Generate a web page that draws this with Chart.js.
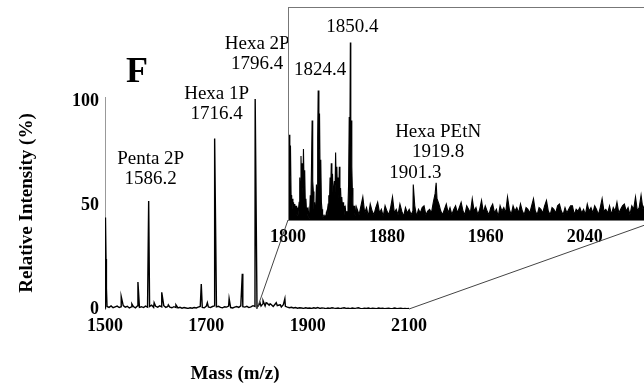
<!DOCTYPE html>
<html>
<head>
<meta charset="utf-8">
<script src="https://cdn.jsdelivr.net/npm/chart.js@4.4.1/dist/chart.umd.min.js"></script>
<style>
html, body { margin: 0; padding: 0; overflow: hidden; background: #fff; }
#wrap { position: relative; width: 644px; height: 384px; overflow: hidden; }
canvas { position: absolute; left: 0; top: 0; }
</style>
</head>
<body>
<div id="wrap">
  <canvas id="mainChart" width="644" height="384"></canvas>
  <canvas id="insetChart" width="680" height="384"></canvas>
</div>
<script>
// tick labels
const mainTicksX = [1500, 1700, 1900, 2100];
const mainTicksY = [0, 50, 100];
const insetTicksX = [1800, 1880, 1960, 2040];

const panelLetter = 'F';
const xTitle = 'Mass (m/z)';
const yTitle = 'Relative Intensity (%)';

// main spectrum: baseline sampled every 4 Da from 1500, plus the peaks
const mainNoiseStart = 1500;
const mainNoiseStep = 4;
const mainNoise = [
  0.5, 1.2, 0.8, 1.5, 0.6, 1.0, 1.4, 0.7, 1.1, 1.6,
  0.9, 1.3, 0.5, 1.0, 1.2, 0.6, 1.5, 0.8, 1.1, 0.7,
  1.4, 0.9, 1.2, 1.8, 0.8, 1.3, 0.9, 1.5, 1.0, 1.6,
  0.8, 1.2, 0.9, 0.6, 1.1, 0.7, 0.5, 0.8, 0.4, 0.7,
  0.5, 0.3, 0.6, 0.4, 0.7, 0.5, 0.9, 1.2, 0.8, 0.6,
  1.4, 1.0, 0.7, 1.2, 1.5, 1.0, 1.3, 0.8, 0.6, 1.1,
  0.9, 1.4, 0.7, 0.5, 0.9, 1.2, 0.8, 1.5, 1.1, 0.9,
  1.3, 0.7, 1.0, 1.6, 1.2, 0.8, 2.0, 1.4, 2.6, 1.5,
  2.8, 1.8, 2.2, 1.2, 2.4, 1.6, 1.9, 1.0, 2.1, 1.3,
  0.9, 0.6, 0.8, 0.5, 0.7, 0.4, 0.6, 0.5, 0.3, 0.6,
  0.4, 0.5, 0.3, 0.6, 0.4, 0.7, 0.3, 0.5, 0.4, 0.2,
  0.5, 0.3, 0.6, 0.4, 0.3, 0.5, 0.2, 0.4, 0.6, 0.3,
  0.4, 0.2, 0.5, 0.3, 0.4, 0.6, 0.3, 0.2, 0.4, 0.3,
  0.5, 0.2, 0.4, 0.3, 0.2, 0.5, 0.3, 0.4, 0.2, 0.3,
  0.4, 0.2, 0.3, 0.5, 0.2, 0.3, 0.4, 0.2, 0.3, 0.2,
  0.3
];
const mainPeakMass = [1500.6, 1501.2, 1502.0, 1502.8, 1532, 1553, 1565, 1586.2, 1597, 1612,
  1625, 1640, 1690, 1702, 1716.4, 1745, 1771, 1796.4, 1806, 1812, 1818, 1826, 1838, 1846, 1855];
const mainPeakInt = [20, 44, 24, 10, 6, 2.5, 13, 52, 3, 8,
  2, 2, 12, 3, 82, 5, 17, 101, 3, 4, 3, 2.5, 3, 2, 5];

// inset: the dense cluster 1800-1856
const insetClusterMass = [
  1800.0, 1800.5, 1801.0, 1801.5, 1802.0, 1802.5, 1803.0, 1803.5, 1804.0, 1804.5,
  1805.0, 1805.5, 1806.0, 1806.5, 1807.0, 1807.5, 1808.0, 1808.5, 1809.0, 1809.5,
  1810.0, 1810.5, 1811.0, 1811.5, 1812.0, 1812.5, 1813.0, 1813.5, 1814.0, 1814.5,
  1815.0, 1815.5, 1816.0, 1816.5, 1817.0, 1817.5, 1818.0, 1818.5, 1819.0, 1819.5,
  1820.0, 1820.5, 1821.0, 1821.5, 1822.0, 1822.5, 1823.0, 1823.5, 1824.0, 1824.4,
  1825.0, 1825.5, 1826.0, 1826.5, 1827.0, 1827.5, 1828.0, 1828.5, 1829.0, 1829.5,
  1830.0, 1830.5, 1831.0, 1831.5, 1832.0, 1832.5, 1833.0, 1833.5, 1834.0, 1834.5,
  1835.0, 1835.5, 1836.0, 1836.5, 1837.0, 1837.5, 1838.0, 1838.5, 1839.0, 1839.5,
  1840.0, 1840.5, 1841.0, 1841.5, 1842.0, 1842.5, 1843.0, 1843.5, 1844.0, 1844.5,
  1845.0, 1845.5, 1846.0, 1846.5, 1847.0, 1847.5, 1848.0, 1848.5, 1849.0, 1849.5,
  1850.0, 1850.4, 1850.8, 1851.2, 1851.6, 1852.0, 1852.5, 1853.0, 1853.5, 1854.0,
  1854.5, 1855.0, 1855.5
];
const insetClusterInt = [
  0, 46, 48, 25, 42, 14, 9, 12, 6, 10,
  4, 9, 5, 8, 3, 7, 2, 6, 10, 24,
  12, 36, 18, 32, 15, 40, 20, 28, 9, 12,
  4, 7, 2, 5, 1, 4, 14, 8, 30, 56,
  22, 16, 6, 10, 4, 8, 20, 12, 46, 73,
  40, 60, 22, 34, 10, 6, 2, 1, 3, 0,
  2, 1, 4, 2, 6, 9, 14, 8, 24, 16,
  32, 20, 26, 12, 18, 22, 14, 38, 20, 30,
  16, 24, 12, 30, 14, 18, 9, 13, 7, 10,
  5, 8, 3, 6, 2, 5, 3, 8, 20, 58,
  40, 100, 52, 56, 30, 18, 9, 4, 8, 3,
  6, 2, 7
];

// inset: noisy tail sampled every 1.5 Da from 1856, plus the two labelled peaks
const insetNoiseStart = 1856;
const insetNoiseStep = 1.5;
const insetNoise = [
  6, 3, 8, 13, 4, 7, 2, 9, 5, 3,
  7, 10, 4, 6, 2, 8, 5, 3, 7, 13,
  4, 6, 3, 9, 5, 2, 7, 4, 6, 3,
  5, 8, 2, 6, 4, 7, 8, 3, 5, 6,
  4, 10, 15, 12, 9, 5, 3, 6, 9, 4,
  7, 3, 6, 8, 4, 7, 10, 5, 3, 8,
  6, 4, 12, 5, 7, 3, 6, 11, 4, 8,
  5, 3, 7, 9, 4, 6, 2, 8, 5, 7,
  4, 13, 6, 3, 8, 5, 7, 4, 9, 5,
  3, 7, 6, 4, 8, 12, 5, 3, 7, 6,
  4, 8, 11, 5, 3, 7, 6, 4, 8, 9,
  5, 3, 7, 4, 6, 8, 8, 3, 6, 5,
  7, 4, 6, 3, 9, 5, 7, 4, 8, 6,
  3, 7, 12, 5, 6, 4, 8, 3, 7, 5,
  10, 4, 6, 8, 9, 5, 7, 3, 8, 6,
  13, 5, 7, 14, 6, 9, 4, 8, 11, 6,
  8, 5, 10
];
const insetPeakMass = [1901.3, 1919.8];
const insetPeakInt = [20, 21];

// peak labels: text lines and the intensity where the last line sits
const mainLabels = [
  { mass: 1586.2, lines: ['Penta 2P', '1586.2'], at: 62.5 },
  { mass: 1716.4, lines: ['Hexa 1P', '1716.4'], at: 94 },
  { mass: 1796.4, lines: ['Hexa 2P', '1796.4'], at: 118 }
];
const insetLabels = [
  { mass: 1850.4, lines: ['1850.4'], at: 108.7 },
  { mass: 1824.4, lines: ['1824.4'], at: 84.5 },
  { mass: 1901.3, lines: ['1901.3'], at: 26.5 },
  { mass: 1919.8, lines: ['Hexa PEtN', '1919.8'], at: 38.3 }
];

const serif = "'Liberation Serif', 'Times New Roman', serif";

function buildSpectrum(start, step, noise, peakMass, peakInt, extraMass, extraInt) {
    let pts = noise.map((v, i) => ({ x: start + i * step, y: v }));
    peakMass.forEach((m, i) => pts.push({ x: m, y: peakInt[i] }));
    if (extraMass) extraMass.forEach((m, i) => pts.push({ x: m, y: extraInt[i] }));
    pts.sort((a, b) => a.x - b.x);
    return pts;
}

function drawLabels(chart, labels) {
    const { ctx, scales: { x, y } } = chart;
    ctx.save();
    ctx.fillStyle = '#000';
    ctx.font = '19px ' + serif;
    ctx.textAlign = 'center';
    ctx.textBaseline = 'middle';
    labels.forEach(l => {
        const px = x.getPixelForValue(l.mass) + 2;
        const py = y.getPixelForValue(l.at);
        const n = l.lines.length;
        l.lines.forEach((t, i) => ctx.fillText(t, px, py - (n - 1 - i) * 20));
    });
    ctx.restore();
}

const tickFont = { family: serif, size: 18, weight: 'bold' };
const plainTick = v => String(v);  // niente separatore delle migliaia

// Grafico principale
const mainChart = new Chart(document.getElementById('mainChart'), {
    type: 'line',
    data: {
        datasets: [{
            data: buildSpectrum(mainNoiseStart, mainNoiseStep, mainNoise, mainPeakMass, mainPeakInt),
            borderColor: '#000',
            borderWidth: 1.4,
            pointRadius: 0,
            tension: 0,
            fill: false
        }]
    },
    options: {
        responsive: false,
        animation: false,
        layout: { padding: { left: 0, top: 97, right: 235, bottom: 0 } },
        plugins: { legend: { display: false }, tooltip: { enabled: false } },
        scales: {
            x: {
                type: 'linear',
                min: 1500,
                max: 2100,
                afterBuildTicks: s => { s.ticks = mainTicksX.map(v => ({ value: v })); },
                afterFit: s => { s.height = 75; },
                grid: { display: false, drawTicks: false },
                border: { display: false },
                ticks: { font: tickFont, color: '#000', padding: 7, maxRotation: 0, callback: plainTick }
            },
            y: {
                min: 0,
                max: 102,
                afterBuildTicks: s => { s.ticks = mainTicksY.map(v => ({ value: v })); },
                afterFit: s => { s.width = 105; },
                grid: { display: false, drawTicks: false },
                border: { display: true, color: '#999', width: 1 },
                ticks: { font: tickFont, color: '#000', padding: 6, callback: plainTick }
            }
        }
    },
    plugins: [{
        id: 'mainTexts',
        afterDraw(chart) {
            drawLabels(chart, mainLabels);
            const ctx = chart.ctx;
            ctx.save();
            ctx.fillStyle = '#000';
            ctx.textAlign = 'center';
            ctx.textBaseline = 'middle';
            ctx.font = 'bold 19px ' + serif;
            ctx.fillText(xTitle, 235, 374);
            ctx.translate(27, 203);
            ctx.rotate(-Math.PI / 2);
            ctx.fillText(yTitle, 0, 0);
            ctx.restore();
            ctx.save();
            ctx.fillStyle = '#000';
            ctx.textAlign = 'center';
            ctx.textBaseline = 'alphabetic';
            ctx.font = 'bold 36px ' + serif;
            ctx.fillText(panelLetter, 137, 82);
            ctx.restore();
        }
    }]
});

// Grafico ingrandito (inset)
const insetChart = new Chart(document.getElementById('insetChart'), {
    type: 'line',
    data: {
        datasets: [{
            data: buildSpectrum(insetNoiseStart, insetNoiseStep, insetNoise, insetPeakMass, insetPeakInt,
                insetClusterMass, insetClusterInt),
            borderColor: '#000',
            backgroundColor: '#000',
            borderWidth: 1.1,
            pointRadius: 0,
            tension: 0,
            fill: 'origin'
        }]
    },
    options: {
        responsive: false,
        animation: false,
        layout: { padding: { left: 288, top: 7, right: 21, bottom: 0 } },
        plugins: { legend: { display: false }, tooltip: { enabled: false }, filler: { propagate: false } },
        scales: {
            x: {
                type: 'linear',
                min: 1800,
                max: 2100,
                afterBuildTicks: s => { s.ticks = insetTicksX.map(v => ({ value: v })); },
                afterFit: s => { s.height = 164; },
                grid: { display: false, drawTicks: false },
                border: { display: false },
                ticks: { font: tickFont, color: '#000', padding: 7, maxRotation: 0, callback: plainTick }
            },
            y: { display: false, min: 0, max: 120 }
        }
    },
    plugins: [{
        id: 'insetFrame',
        afterDraw(chart) {
            const { ctx, chartArea: a, scales: { x, y } } = chart;
            const mx = mainChart.scales.x, my = mainChart.scales.y;
            ctx.save();
            ctx.strokeStyle = '#777';
            ctx.lineWidth = 1;
            ctx.strokeRect(a.left + 0.5, a.top + 0.5, a.right - a.left, a.bottom - a.top);
            // linee di collegamento verso il grafico principale
            ctx.strokeStyle = '#444';
            ctx.beginPath();
            ctx.moveTo(mx.getPixelForValue(x.min), my.getPixelForValue(0));
            ctx.lineTo(x.getPixelForValue(x.min), y.getPixelForValue(0));
            ctx.moveTo(mx.getPixelForValue(mx.max), my.getPixelForValue(0));
            ctx.lineTo(x.getPixelForValue(x.max), y.getPixelForValue(0));
            ctx.stroke();
            ctx.restore();
            drawLabels(chart, insetLabels);
        }
    }]
});
</script>
</body>
</html>
